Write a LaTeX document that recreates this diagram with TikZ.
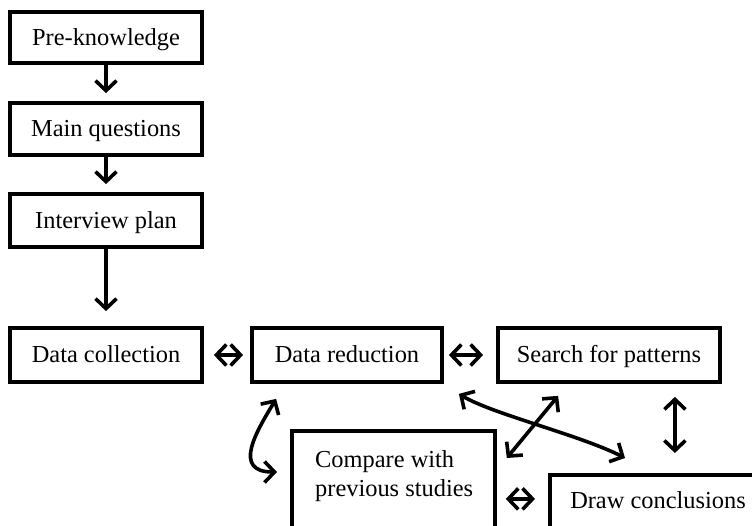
\documentclass[tikz,border=0pt]{standalone}
\usepackage{fontspec}
\setmainfont{Liberation Serif}
\usetikzlibrary{arrows.meta,calc}
\begin{document}
\begin{tikzpicture}[x=1pt,y=-1pt,
  txt/.style={inner sep=0pt, font=\fontsize{24.4}{29.3}\selectfont},
  box/.style={draw, line width=3.8pt, inner sep=0pt, text height=17pt, text depth=2pt,
              font=\fontsize{24.4}{29.3}\selectfont},
  conn/.style={line width=3.6pt, -{Straight Barb[length=10pt,width=21pt]}},
  dconn/.style={line width=3.6pt, {Straight Barb[length=10pt,width=21pt]}-{Straight Barb[length=10pt,width=21pt]}}]
\useasboundingbox (0,0) rectangle (752,525);
\clip (0,0) rectangle (752,525);

\node[box, minimum width=192pt, minimum height=51pt] (pre) at (106,37.5) {Pre-knowledge};
\node[box, minimum width=192pt, minimum height=52pt] (mq) at (106,129) {Main questions};
\node[box, minimum width=192pt, minimum height=53pt] (ip) at (106,220.5) {Interview plan};
\node[box, minimum width=192pt, minimum height=54pt] (dc) at (106,355) {Data collection};
\node[box, minimum width=190pt, minimum height=54pt] (dr) at (347,355) {Data reduction};
\node[box, minimum width=222pt, minimum height=54pt] (sp) at (609,355) {Search for patterns};

\node[draw, line width=3.8pt, inner sep=0pt, minimum width=203pt, minimum height=130pt, anchor=north west] (cmp) at (290,429) {};
\node[txt, align=left, anchor=north west] (cmpt) at (315,450) {Compare with\\previous studies};
\node[draw, line width=3.8pt, inner sep=0pt, minimum width=250pt, minimum height=100pt, anchor=north west] (dcl) at (548,473) {};
\node[txt] (dclt) at (658,500) {Draw conclusions};

\draw[conn, shorten >=8pt] (pre) -- (mq);
\draw[conn, shorten >=8pt] (mq) -- (ip);
\draw[conn, shorten >=15pt] (ip) -- (dc);

\draw[dconn] ($(dc.east)+(10,0)$) -- ($(dr.west)+(-7,0)$);
\draw[dconn] ($(dr.east)+(5,0)$) -- ($(sp.west)+(-13,0)$);
\draw[dconn] ($(cmp.east)+(9,3)$) -- ($(cmp.east -| dcl.west)+(-13,3)$);
\draw[dconn] ($(sp.south -| dcl.north)+(0,13)$) -- ($(dcl.north)+(0,-20)$);
\draw[dconn] ($(cmp.north east)+(10,29)$) -- ($(sp.south west)+(62,12)$);
\draw[dconn] ($(dr.south west)+(26,15)$) .. controls ($(dr.south west)+(6,48)$) and ($(cmp.north west)+(-58,43)$) .. ($(cmp.north west)+(-13,43)$);
\draw[dconn] ($(dr.south east)+(15,10)$) .. controls ($(dr.south east)+(48,30)$) and ($(dcl.north west)+(32,-38)$) .. ($(dcl.north west)+(77,-15)$);
\end{tikzpicture}
\end{document}
